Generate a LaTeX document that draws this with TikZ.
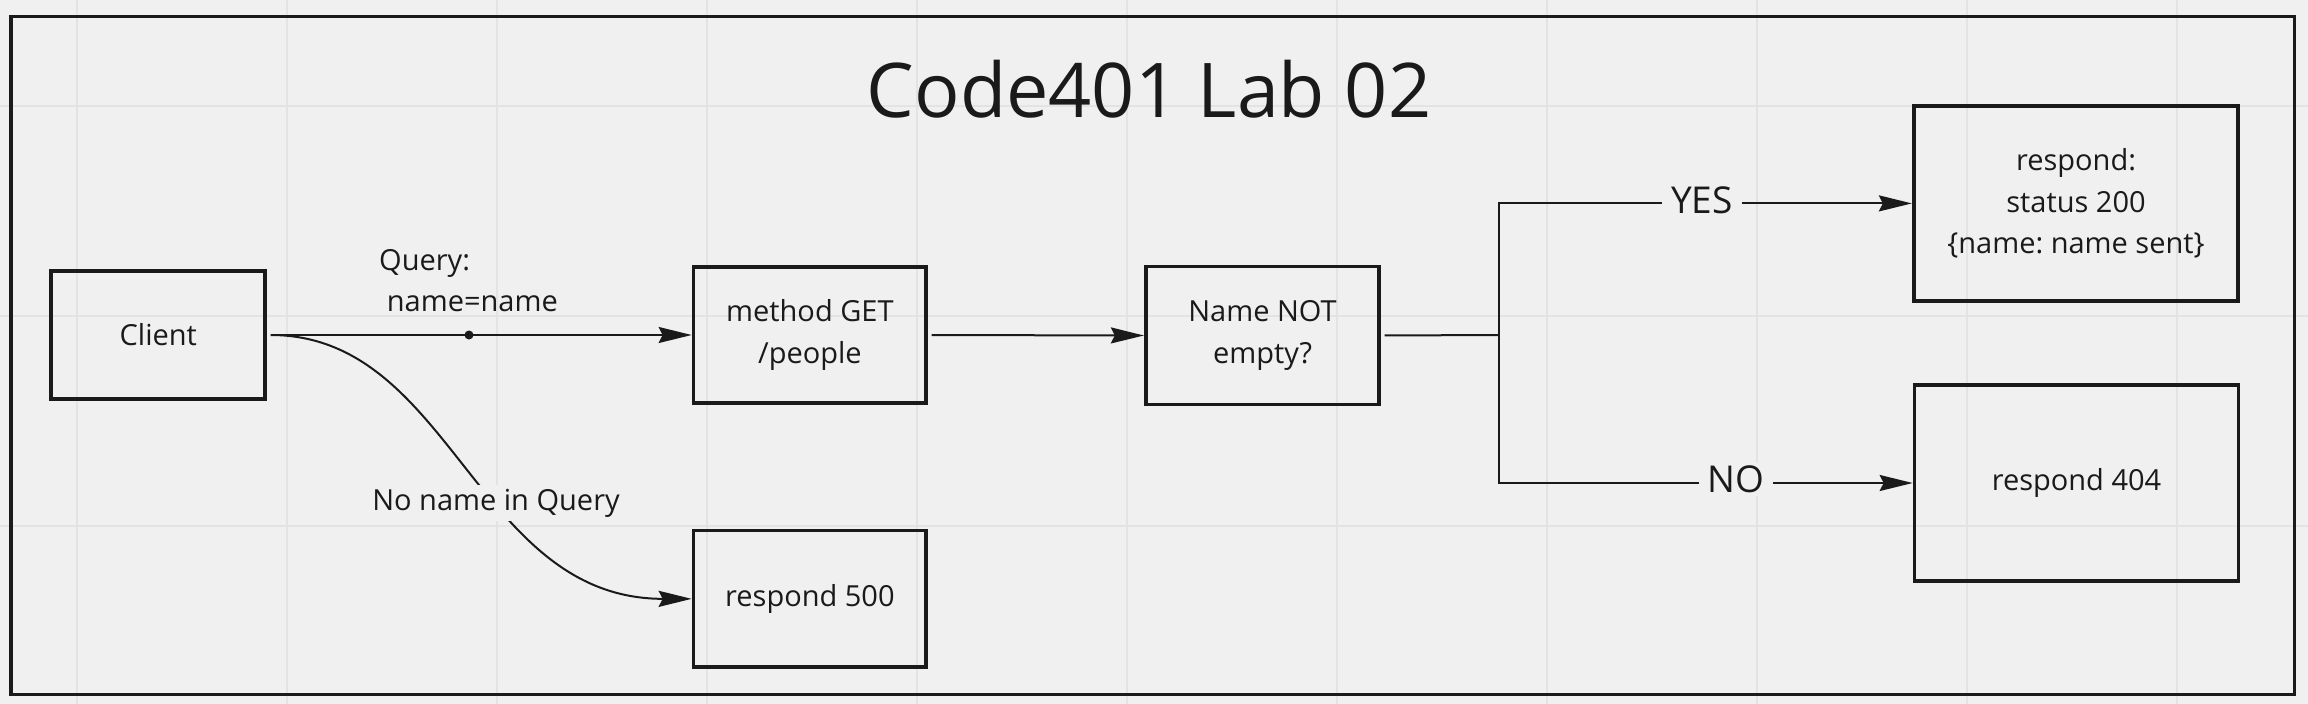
\documentclass[tikz,border=0pt]{standalone}
\usepackage{fontspec}
\setmainfont{Open Sans}
\usetikzlibrary{arrows.meta}
\definecolor{bg}{HTML}{F0F0F0}
\definecolor{gridc}{HTML}{E3E3E3}
\definecolor{ink}{HTML}{1A1A1A}
\tikzset{
  box/.style={draw=ink, line width=3.7pt, inner sep=0pt, align=center,
    font=\fontsize{29}{41.5}\selectfont, text=ink},
  conn/.style={draw=ink, line width=2pt, shorten <=3.5pt,
    -{Stealth[length=33pt,width=16pt,inset=4pt]}},
  plainline/.style={draw=ink, line width=2pt},
  lbl/.style={font=\fontsize{29}{41.5}\selectfont, text=ink, inner sep=0pt},
  yn/.style={font=\fontsize{37}{44}\selectfont, text=ink, fill=bg,
    inner xsep=9pt, inner ysep=3pt},
}
\frenchspacing
\begin{document}
\begin{tikzpicture}[x=1pt,y=-1pt]
\fill[bg] (0,0) rectangle (2308,704);
\useasboundingbox (0,0) rectangle (2308,704);
% grid
\foreach \gx in {0,...,10} \draw[gridc, line width=2pt] ({76.5+210*\gx},0) -- ({76.5+210*\gx},704);
\foreach \gy in {105.7,315.7,525.7} \draw[gridc, line width=2pt] (0,\gy) -- (2308,\gy);
% frame
\draw[ink, line width=3.5pt] (10.95,16.55) rectangle (2294.25,694.25);
% title
\node[font=\fontsize{75.5}{90}\selectfont, text=ink, anchor=base, inner sep=0pt] (title) at (1149,117.7) {Code401 Lab 02};
% boxes
\node[box, minimum width=214pt, minimum height=127.6pt] (client) at (158.25,335) {Client};
\node[box, minimum width=232.8pt, minimum height=136.6pt] (method) at (809.9,335) {method GET\\/people};
\node[box, minimum width=232.8pt, minimum height=136.9pt] (r500) at (809.9,598.85) {respond 500};
\node[box, minimum width=233.6pt, minimum height=138pt] (name) at (1262.5,335.5) {Name NOT\\empty?};
\node[box, minimum width=324.6pt, minimum height=195.3pt] (r200) at (2076,203.4) {respond:\\status 200\\\{name: name sent\}};
\node[box, minimum width=324pt, minimum height=196.6pt] (r404) at (2076.5,483) {respond 404};
% client -> method
\draw[conn] (client.east) -- (method.west);
\node[circle, fill=ink, inner sep=0pt, minimum size=9pt] (dot) at (469,335) {};
\node[lbl, anchor=base west] (q1) at (379,270) {Query:};
\node[lbl, anchor=base west] (q2) at (386.7,311.7) {name=name};
% client -> 500
\draw[conn] (client.east) .. controls +(185,0) and +(-216,0) .. (r500.west);
\node[lbl, fill=bg, inner xsep=3pt, inner ysep=4pt] (nolbl) at (496,503) {No name in Query};
% method -> name
\draw[conn] (method.east) -- (name.west);
% branch
\coordinate (br) at (1499,335);
\draw[plainline, shorten <=3.5pt] (name.east) -- (br);
\draw[plainline, -{Stealth[length=33pt,width=16pt,inset=4pt]}] (br) |- (r200.west);
\draw[plainline, -{Stealth[length=33pt,width=16pt,inset=4pt]}] (br) |- (r404.west);
\node[yn] (yes) at (1702,200.5) {YES};
\node[yn] (no) at (1736,479.7) {NO};
\end{tikzpicture}
\end{document}
